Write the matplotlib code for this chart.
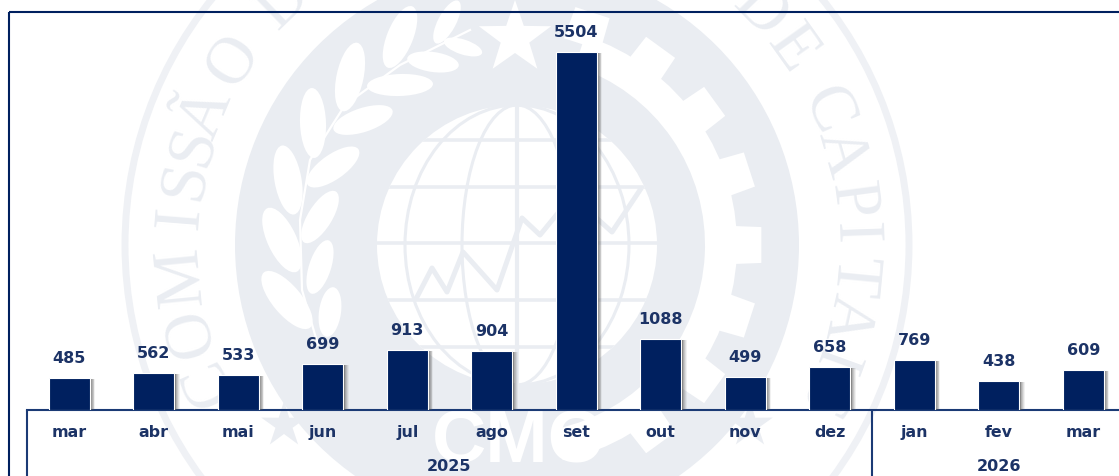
import numpy as np
import matplotlib
matplotlib.use("Agg")
import matplotlib.pyplot as plt
import matplotlib.patheffects as pe
from matplotlib.patches import Circle, Wedge, Ellipse, Polygon

months = ["mar", "abr", "mai", "jun", "jul", "ago", "set", "out", "nov", "dez", "jan", "fev", "mar"]
values = [485, 562, 533, 699, 913, 904, 5504, 1088, 499, 658, 769, 438, 609]
year_labels = ["2025", "2026"]
year_spans = [(0, 10), (10, 13)]

NAVY = "#00205F"
LABEL = "#1C3366"
LINE = "#1B3A75"
WM = "#EAEDF2"
WM_LIGHT = "#EFF1F5"
W, H = 1119, 476

fig = plt.figure(figsize=(W / 100, H / 100), dpi=100, facecolor="white")

# ---- watermark layer, pixel coordinates ----
bg = fig.add_axes([0, 0, 1, 1], zorder=0)
bg.set_xlim(0, W)
bg.set_ylim(H, 0)
bg.axis("off")
cx, cy = 517, 245


def pol(r, deg):
    a = np.radians(deg)
    return cx + r * np.cos(a), cy - r * np.sin(a)


bg.add_patch(Circle((cx, cy), 392, fc="none", ec=WM_LIGHT, lw=5))
bg.add_patch(Circle((cx, cy), 282, fc=WM, ec="none"))
# gear: white ring with white teeth on the right half
bg.add_patch(Wedge((cx, cy), 220, -72, 78, width=32, fc="white", ec="none"))
for t in range(-54, 73, 18):
    hw = 4.2
    pts = [pol(212, t - hw - 1), pol(245, t - hw), pol(245, t + hw), pol(212, t + hw + 1)]
    bg.add_patch(Polygon(pts, fc="white", ec="none"))
# laurel leaves
leaves = [
    (400, 85, 66, 22, 2), (363, 120, 62, 24, 18), (333, 167, 62, 25, 35),
    (320, 217, 60, 24, 58), (320, 267, 56, 22, 72), (330, 312, 50, 22, 82),
    (350, 77, 70, 27, 78), (313, 123, 70, 26, 92), (288, 180, 70, 27, 100),
    (282, 240, 70, 29, 115), (287, 300, 72, 29, 130),
    (400, 37, 66, 26, 68), (433, 62, 52, 20, -8), (463, 47, 40, 15, -18), (447, 22, 48, 18, 62),
]
for x, y, l, w, ang in leaves:
    bg.add_patch(Ellipse((x, y), l, w, angle=-ang, fc="white", ec="none"))
bg.plot([318, 302, 300, 310, 345, 400, 470], [345, 290, 220, 160, 105, 65, 30], color="white", lw=1.6)
# star at the top
star_r = [38 if i % 2 == 0 else 15 for i in range(10)]
star = [(515 + r * np.sin(np.radians(36 * i)), 38 - r * np.cos(np.radians(36 * i))) for i, r in enumerate(star_r)]
bg.add_patch(Polygon(star, fc="white", ec="none"))
# globe
bg.add_patch(Circle((cx, cy), 140, fc="white", ec="none"))
clip = Circle((cx, cy), 140, transform=bg.transData)
for yy in [140, 187, 243, 300, 347]:
    ln, = bg.plot([cx - 140, cx + 140], [yy, yy], color=WM, lw=2.6)
    ln.set_clip_path(clip)
ln, = bg.plot([cx, cx], [cy - 140, cy + 140], color=WM, lw=3)
ln.set_clip_path(clip)
for w_ in [55, 112]:
    bg.add_patch(Ellipse((cx, cy), 2 * w_, 280, fc="none", ec=WM, lw=2.2))
ln, = bg.plot([417, 432, 447, 463, 497, 522, 540, 572, 612, 640],
              [297, 268, 292, 252, 290, 218, 235, 196, 232, 190], color=WM, lw=3.6)
ln.set_clip_path(clip)
# lettering on the seal
left = list(zip("COMISSÃODO", [-24, -15, -5.5, 4.6, 11, 17, 23, 33, 46, 57]))
for ch, ang in left:
    x, y = pol(337, 180 - ang)
    bg.text(x, y, ch, family="Liberation Serif", fontsize=48, color=WM, rotation=90 - ang,
            rotation_mode="anchor", ha="center", va="center", zorder=1, clip_on=True)
right = list(zip("DECAPITAIS", [44, 35.5, 23.5, 16, 7.6, 2, -5.5, -12.5, -20, -27]))
for ch, ang in right:
    x, y = pol(337, ang)
    bg.text(x, y, ch, family="Liberation Serif", fontsize=48, color=WM, rotation=ang - 90,
            rotation_mode="anchor", ha="center", va="center", zorder=1, clip_on=True)
bg.text(cx, 408, "CMC", family="Liberation Sans", fontweight="bold", fontsize=54, color="white",
        ha="center", va="top", zorder=1, clip_on=True)
for sx in (284, 750):
    sr = [24 if i % 2 == 0 else 9 for i in range(10)]
    bg.add_patch(Polygon([(sx + r * np.sin(np.radians(36 * i)), 425 - r * np.cos(np.radians(36 * i)))
                          for i, r in enumerate(sr)], fc=WM, ec="none"))
# frame
bg.plot([9, 9], [H, 12], color=NAVY, lw=1.5, solid_capstyle="butt", zorder=5)
bg.plot([9, W], [12, 12], color=NAVY, lw=1.5, solid_capstyle="butt", zorder=5)

# ---- chart layer ----
left_px, base_px, step = 27, 409.5, 84.5
ax = fig.add_axes([left_px / W, (H - base_px) / H, step * len(months) / W, base_px / H], zorder=2)
ax.patch.set_alpha(0)
x = np.arange(len(months))
bars = ax.bar(x, values, width=0.485, color=NAVY, edgecolor="white", linewidth=0.8, zorder=3)
shadow = [pe.SimplePatchShadow(offset=(d, -0.8), shadow_rgbFace="#555555", alpha=a)
          for d, a in [(4.0, 0.08), (3.4, 0.12), (2.8, 0.16), (2.2, 0.2), (1.6, 0.28), (1.1, 0.3)]]
for b in bars:
    b.set_path_effects(shadow + [pe.Normal()])
ax.set_xlim(-0.5, len(months) - 0.5)
ax.set_ylim(0, 6305)
for s in ("top", "right", "left"):
    ax.spines[s].set_visible(False)
ax.spines["bottom"].set_color(LINE)
ax.spines["bottom"].set_linewidth(1.5)
ax.set_yticks([])
ax.set_xticks(x, months)
ax.tick_params(axis="x", length=0, pad=11.5, labelsize=11.4, labelcolor=LABEL)
for t in ax.get_xticklabels():
    t.set_fontweight("bold")
for xi, v in zip(x, values):
    ax.annotate(str(v), (xi, v), xytext=(0, 10.6), textcoords="offset points", ha="center", va="baseline",
                fontsize=11.5, fontweight="bold", color=LABEL)
trans = ax.get_xaxis_transform()
for lab, (a, b) in zip(year_labels, year_spans):
    ax.annotate(lab, ((a + b - 1) / 2, 0), xycoords=trans, xytext=(0, -44.5), textcoords="offset points",
                ha="center", va="baseline", fontsize=11.5, fontweight="bold", color=LABEL, annotation_clip=False)
for edge in [s[0] for s in year_spans]:
    ax.plot([edge - 0.5, edge - 0.5], [0, -0.2], transform=trans, color=LINE, lw=1.5, clip_on=False,
            solid_capstyle="butt")

fig.savefig("out.png", dpi=100)
